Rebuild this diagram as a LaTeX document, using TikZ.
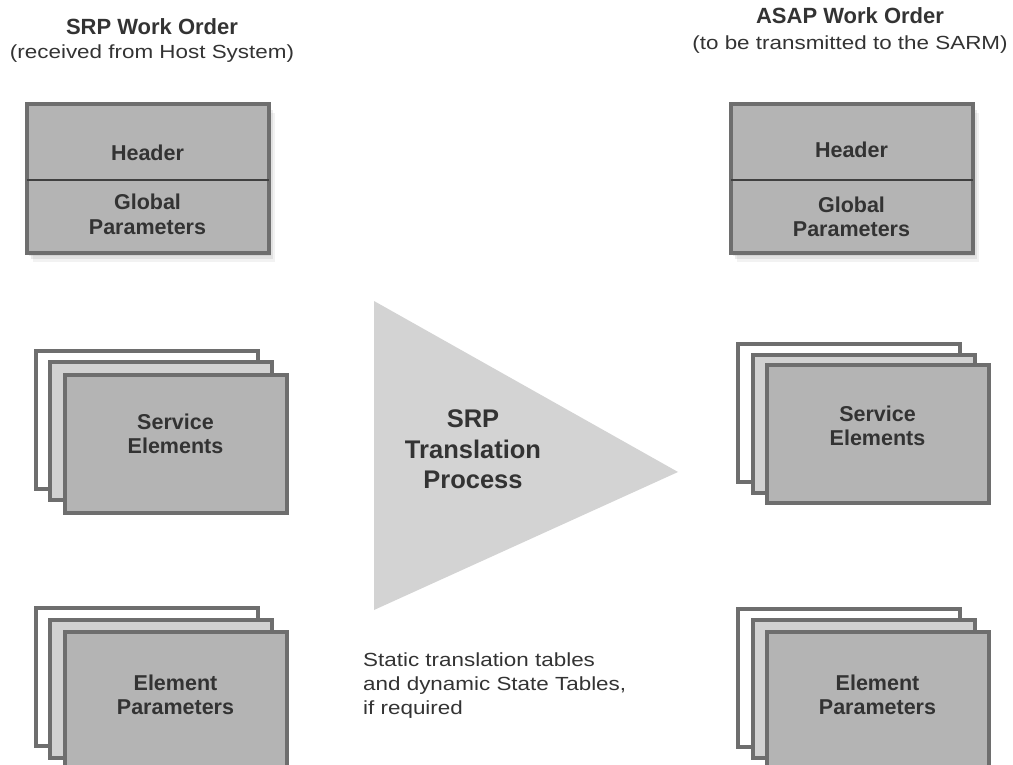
\documentclass[tikz,border=0pt]{standalone}
\usepackage{fontspec}
\setmainfont{Liberation Sans}
\newfontfamily\widefont[FakeStretch=1.18]{Liberation Sans}
\usetikzlibrary{shadows}

\definecolor{framegray}{HTML}{6E6E6E}
\definecolor{frontgray}{HTML}{B4B4B4}
\definecolor{midgray}{HTML}{D2D2D2}
\definecolor{trigray}{HTML}{D3D3D3}
\definecolor{textgray}{HTML}{333333}

\tikzstyle{title} = [font=\bfseries\fontsize{22}{26}\selectfont, text=textgray, inner sep=0pt]
\tikzstyle{subtitle} = [font=\widefont\fontsize{19}{24}\selectfont, text=textgray, inner sep=0pt]
\tikzstyle{hdrbox} = [rectangle, draw=framegray, line width=4pt, fill=frontgray, minimum width=242pt, minimum height=149pt, inner sep=0pt, outer sep=0pt, drop shadow={opacity=0.15, shadow xshift=2pt, shadow yshift=-3pt}, drop shadow={opacity=0.15, shadow xshift=4pt, shadow yshift=-6pt}, drop shadow={opacity=0.1, shadow xshift=6pt, shadow yshift=-9pt}]
\tikzstyle{sheet} = [rectangle, draw=framegray, line width=4pt, minimum width=222pt, minimum height=138pt, inner sep=0pt]
\tikzstyle{boxtext} = [font=\bfseries\fontsize{21.5}{24.5}\selectfont, text=textgray, align=center, inner sep=0pt]
\tikzstyle{divider} = [line width=1.2pt, draw=black!75]

\begin{document}
\begin{tikzpicture}[x=1pt, y=-1pt]

\useasboundingbox (0,0) rectangle (1013,765);

% source work order
\node (srctitle) [title] at (152,27) {SRP Work Order};
\node (srcsub) [subtitle] at (152,54) {(received from Host System)};

\node (srchdr) [hdrbox] at (147.5,178.5) {};
\coordinate (srcdiv) at (147.5,180);
\draw [divider] (srchdr.west |- srcdiv) -- (srchdr.east |- srcdiv);
\node (srchead) [boxtext] at (147.5,152.5) {Header};
\node (srcglobal) [boxtext] at (147.5,214.3) {Global\\Parameters};

\node (srcsvc3) [sheet, fill=white] at (146.5,420) {};
\node (srcsvc2) [sheet, fill=midgray] at (161,431) {};
\node (srcsvc1) [sheet, fill=frontgray] at (175.5,443.5) {};
\node (srcsvctext) [boxtext] at (175.5,434) {Service\\Elements};

\node (srcelm3) [sheet, fill=white] at (146.5,677) {};
\node (srcelm2) [sheet, fill=midgray] at (161,689) {};
\node (srcelm1) [sheet, fill=frontgray] at (175.5,701) {};
\node (srcelmtext) [boxtext] at (175.5,695) {Element\\Parameters};

% translation process
\fill [trigray] (374,301) -- (678,472) -- (374,610) -- cycle;
\node (srpproc) [boxtext, font=\bfseries\fontsize{25.5}{30.5}\selectfont] at (473,449.5) {SRP\\Translation\\Process};
\node (tables) [subtitle, anchor=west, align=left] at (363,686) {Static translation tables\\and dynamic State Tables,\\if required};

% target work order
\node (dsttitle) [title] at (850,15.5) {ASAP Work Order};
\node (dstsub) [subtitle] at (850,45) {(to be transmitted to the SARM)};

\node (dsthdr) [hdrbox] at (851.5,178.5) {};
\coordinate (dstdiv) at (851.5,180);
\draw [divider] (dsthdr.west |- dstdiv) -- (dsthdr.east |- dstdiv);
\node (dsthead) [boxtext] at (851.5,149.5) {Header};
\node (dstglobal) [boxtext] at (851.5,216.8) {Global\\Parameters};

\node (dstsvc3) [sheet, fill=white] at (849,412.5) {};
\node (dstsvc2) [sheet, fill=midgray] at (863.5,424) {};
\node (dstsvc1) [sheet, fill=frontgray] at (877.5,434) {};
\node (dstsvctext) [boxtext] at (877.5,426) {Service\\Elements};

\node (dstelm3) [sheet, fill=white] at (849,677.5) {};
\node (dstelm2) [sheet, fill=midgray] at (863.5,689) {};
\node (dstelm1) [sheet, fill=frontgray] at (877.5,701) {};
\node (dstelmtext) [boxtext] at (877.5,695) {Element\\Parameters};

\end{tikzpicture}
\end{document}
